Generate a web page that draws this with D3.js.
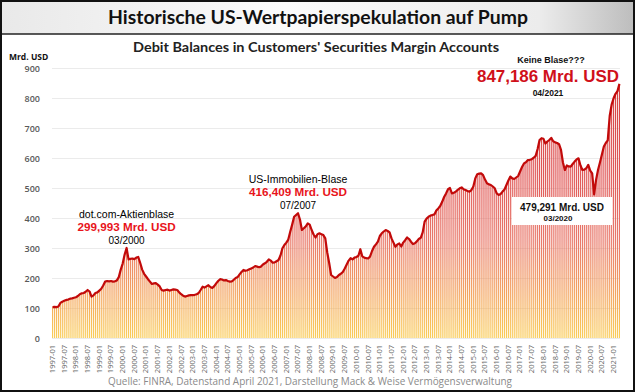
<!DOCTYPE html>
<html>
<head>
<meta charset="utf-8">
<script src="https://cdn.jsdelivr.net/npm/d3@7"></script>
<style>
  body { margin: 0; background: #fff; }
  svg { display: block; }
</style>
</head>
<body>
<script>
// Monthly debit balances (Mrd. USD), 1997-01 .. 2021-04
var debit = [
  103, 104, 103, 105, 117, 121, 124, 127, 128, 131, 132, 134,   // 1997
  136, 140, 146, 149, 150, 154, 160, 155, 138, 142, 150, 152,   // 1998
  158, 164, 175, 188, 190, 189, 190, 188, 189, 192, 203, 228,   // 1999
  248, 278, 300, 262, 264, 265, 263, 268, 270, 250, 228, 214,   // 2000
  205, 196, 188, 180, 182, 183, 178, 172, 160, 158, 160, 161,   // 2001
  158, 160, 162, 161, 160, 152, 146, 141, 138, 140, 142, 143,   // 2002
  143, 144, 146, 150, 160, 171, 168, 172, 176, 170, 167, 173,   // 2003
  182, 190, 196, 195, 192, 193, 190, 188, 189, 194, 200, 203,   // 2004
  212, 220, 227, 224, 226, 229, 232, 235, 240, 238, 236, 238,   // 2005
  245, 249, 254, 262, 258, 251, 252, 256, 260, 275, 299, 310,   // 2006
  318, 328, 354, 378, 404, 410, 416, 395, 360, 366, 372, 382,   // 2007
  378, 360, 345, 335, 346, 349, 346, 343, 332, 285, 250, 210,   // 2008
  205, 200, 203, 210, 214, 220, 232, 245, 258, 266, 262, 268,   // 2009
  270, 274, 296, 272, 268, 266, 265, 272, 290, 304, 312, 321,   // 2010
  340, 349, 355, 360, 357, 352, 332, 318, 304, 312, 315, 305,   // 2011
  318, 326, 335, 330, 321, 313, 316, 322, 330, 334, 352, 388,   // 2012
  398, 404, 408, 410, 412, 425, 432, 440, 454, 470, 482, 496,   // 2013
  500, 482, 484, 488, 494, 499, 502, 496, 493, 490, 488, 493,   // 2014
  505, 532, 546, 548, 549, 543, 528, 516, 512, 510, 505, 499,   // 2015
  482, 477, 480, 488, 495, 510, 525, 538, 532, 530, 535, 540,   // 2016
  555, 570, 582, 586, 593, 594, 596, 601, 607, 630, 660, 666,   // 2017
  664, 648, 655, 660, 667, 656, 652, 650, 646, 627, 585, 560,   // 2018
  575, 572, 571, 580, 588, 595, 599, 575, 560, 561, 566, 577,   // 2019
  558, 549, 479, 527, 560, 585, 612, 638, 650, 659, 740, 778,   // 2020
  799, 814, 823, 847                                            // 2021
];

var yTicks = [0, 100, 200, 300, 400, 500, 600, 700, 800, 900];

// peak labels: month, three text lines
var peaks = [
  { month: "2000-03", head: "dot.com-Aktienblase", value: "299,993 Mrd. USD", date: "03/2000" },
  { month: "2007-07", head: "US-Immobilien-Blase", value: "416,409 Mrd. USD", date: "07/2007" }
];

// month labels
var months = [];
for (var yr = 1997; yr <= 2021; yr++) {
  for (var mo = 1; mo <= 12; mo++) {
    if (months.length < debit.length) months.push(yr + "-" + (mo < 10 ? "0" + mo : mo));
  }
}
var data = months.map(function (m, i) { return { m: m, v: debit[i] }; });
var tickMonths = months.filter(function (m) { return /-(01|07)$/.test(m); });

var W = 635, H = 392;
var annFont = "'Liberation Sans', Arial, sans-serif";
var svg = d3.select("body").append("svg")
  .attr("width", W)
  .attr("height", H);

var defs = svg.append("defs");

var tg = defs.append("linearGradient").attr("id", "titleBg");
tg.append("stop").attr("offset", "0%").attr("stop-color", "#e9e9e9");
tg.append("stop").attr("offset", "45%").attr("stop-color", "#fbfbfb");
tg.append("stop").attr("offset", "85%").attr("stop-color", "#ececec");
tg.append("stop").attr("offset", "100%").attr("stop-color", "#bdbdbd");

var x = d3.scaleBand().domain(months).range([52, 620]).paddingInner(0.42);
var y = d3.scaleLinear().domain([0, 900]).range([338, 68]);

// bar gradient fixed to the value axis
var bg = defs.append("linearGradient").attr("id", "barFill")
  .attr("gradientUnits", "userSpaceOnUse")
  .attr("x1", 0).attr("x2", 0)
  .attr("y1", y(0)).attr("y2", y(850));
bg.append("stop").attr("offset", "0%").attr("stop-color", "#f9c846");
bg.append("stop").attr("offset", "17%").attr("stop-color", "#f29a4c");
bg.append("stop").attr("offset", "38%").attr("stop-color", "#e66a5a");
bg.append("stop").attr("offset", "65%").attr("stop-color", "#dc4444");
bg.append("stop").attr("offset", "100%").attr("stop-color", "#cf2a2a");

// title bar
svg.append("rect")
  .attr("x", 1).attr("y", 1).attr("width", W - 2).attr("height", 33)
  .attr("fill", "url(#titleBg)");
svg.append("line")
  .attr("x1", 0).attr("x2", W).attr("y1", 34).attr("y2", 34)
  .attr("stroke", "#222").attr("stroke-width", 1.5);
svg.append("text")
  .attr("x", 318).attr("y", 24)
  .attr("text-anchor", "middle")
  .attr("textLength", 420).attr("lengthAdjust", "spacingAndGlyphs")
  .style("font-family", "Lato, 'Open Sans', sans-serif")
  .style("font-weight", "bold").style("font-size", "19px")
  .style("fill", "#111")
  .text("Historische US-Wertpapierspekulation auf Pump");

// subtitle
svg.append("text")
  .attr("x", 316).attr("y", 52)
  .attr("text-anchor", "middle")
  .attr("textLength", 366).attr("lengthAdjust", "spacingAndGlyphs")
  .style("font-family", "Lato, 'Open Sans', sans-serif")
  .style("font-weight", "bold").style("font-size", "13px")
  .style("fill", "#222")
  .text("Debit Balances in Customers' Securities Margin Accounts");

svg.append("text")
  .attr("x", 9).attr("y", 60)
  .style("font-family", "'Open Sans', sans-serif")
  .style("font-weight", "bold").style("font-size", "8.5px")
  .style("fill", "#111")
  .text("Mrd. USD");

// grid + y axis
var yAxis = svg.append("g")
  .attr("transform", "translate(52,0)")
  .call(d3.axisLeft(y).tickValues(yTicks).tickSize(-568).tickPadding(12));
yAxis.select(".domain").remove();
yAxis.selectAll("line").attr("stroke", "#e6e6e6").attr("stroke-width", 0.8);
yAxis.selectAll("text")
  .attr("dy", "0.4em")
  .style("font-family", "'Open Sans', sans-serif")
  .style("font-weight", "600").style("font-size", "9px")
  .style("fill", "#595959");

// bars
svg.append("g").selectAll("rect")
  .data(data)
  .enter()
  .append("rect")
    .attr("x", function (d) { return x(d.m); })
    .attr("y", function (d) { return y(d.v); })
    .attr("width", x.bandwidth())
    .attr("height", function (d) { return y(0) - y(d.v); })
    .attr("fill", "url(#barFill)")
    .attr("opacity", 0.9);

// outline line on top
var line = d3.line()
  .x(function (d) { return x(d.m) + x.bandwidth() / 2; })
  .y(function (d) { return y(d.v); });
svg.append("path")
  .datum(data)
  .attr("d", line)
  .attr("fill", "none")
  .attr("stroke", "#c20a0a")
  .attr("stroke-width", 2.2)
  .attr("stroke-linejoin", "round");

// x axis labels
var xAxis = svg.append("g")
  .attr("transform", "translate(0," + y(0) + ")")
  .call(d3.axisBottom(x).tickValues(tickMonths).tickSize(0));
xAxis.select(".domain").remove();
xAxis.selectAll("text")
  .attr("transform", "translate(0,7) rotate(-90)")
  .attr("text-anchor", "end")
  .attr("dx", 0).attr("dy", "0.32em").attr("y", 0).attr("x", 0)
  .style("font-family", "'Open Sans', sans-serif")
  .style("font-size", "7.5px")
  .style("fill", "#666");

// peak annotations
var ann = svg.append("g").selectAll("g")
  .data(peaks)
  .enter()
  .append("g")
    .attr("transform", function (d) {
      var i = months.indexOf(d.month);
      return "translate(" + (x(d.month) + x.bandwidth() / 2) + "," + (y(debit[i]) - 4) + ")";
    });
ann.append("text")
  .attr("y", -26).attr("text-anchor", "middle")
  .style("font-family", annFont)
  .style("font-size", "10.5px")
  .style("fill", "#000")
  .text(function (d) { return d.head; });
ann.append("text")
  .attr("y", -13).attr("text-anchor", "middle")
  .style("font-family", annFont)
  .style("font-weight", "bold").style("font-size", "11.7px")
  .style("fill", "#e8141b")
  .text(function (d) { return d.value; });
ann.append("text")
  .attr("y", 0).attr("text-anchor", "middle")
  .style("font-family", annFont)
  .style("font-size", "10px")
  .style("fill", "#000")
  .text(function (d) { return d.date; });

// latest value
svg.append("text")
  .attr("x", 551).attr("y", 63).attr("text-anchor", "middle")
  .style("font-family", annFont)
  .style("font-weight", "bold").style("font-size", "9px")
  .style("fill", "#111")
  .text("Keine Blase???");
svg.append("text")
  .attr("x", 548).attr("y", 82).attr("text-anchor", "middle")
  .attr("textLength", 142).attr("lengthAdjust", "spacingAndGlyphs")
  .style("font-family", annFont)
  .style("font-weight", "bold").style("font-size", "16.5px")
  .style("fill", "#d0101a")
  .text("847,186 Mrd. USD");
svg.append("text")
  .attr("x", 548).attr("y", 96).attr("text-anchor", "middle")
  .style("font-family", annFont)
  .style("font-weight", "bold").style("font-size", "8.5px")
  .style("fill", "#111")
  .text("04/2021");

// covid low box
svg.append("rect")
  .attr("x", 512).attr("y", 197).attr("width", 100).attr("height", 28)
  .attr("fill", "#fff");
svg.append("text")
  .attr("x", 562).attr("y", 211).attr("text-anchor", "middle")
  .style("font-family", annFont)
  .style("font-weight", "bold").style("font-size", "10px")
  .style("fill", "#111")
  .text("479,291 Mrd. USD");
svg.append("text")
  .attr("x", 558).attr("y", 221).attr("text-anchor", "middle")
  .style("font-family", annFont)
  .style("font-weight", "bold").style("font-size", "8px")
  .style("fill", "#111")
  .text("03/2020");

// source
svg.append("text")
  .attr("x", 310).attr("y", 385).attr("text-anchor", "middle")
  .attr("textLength", 404).attr("lengthAdjust", "spacingAndGlyphs")
  .style("font-family", "'Open Sans', sans-serif")
  .style("font-size", "10px")
  .style("fill", "#8a8a8a")
  .text("Quelle: FINRA, Datenstand April 2021, Darstellung Mack & Weise Vermögensverwaltung");

// frame
svg.append("rect")
  .attr("x", 1).attr("y", 1).attr("width", W - 2).attr("height", H - 2)
  .attr("fill", "none").attr("stroke", "#111").attr("stroke-width", 2);
</script>
</body>
</html>
